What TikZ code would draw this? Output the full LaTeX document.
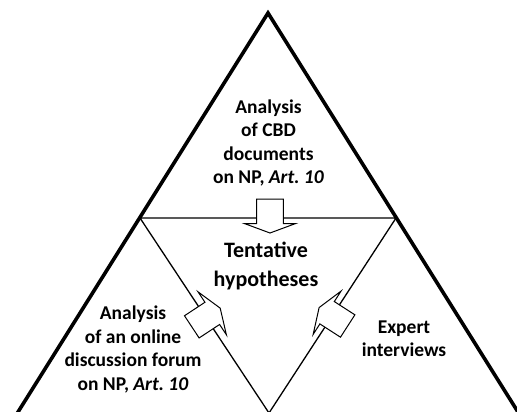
\documentclass[tikz,border=0pt]{standalone}
\usepackage{fontspec}
\setmainfont{Carlito}
\frenchspacing
\begin{document}
\begin{tikzpicture}[x=1pt,y=-1pt,
  outer/.style={line width=3.6pt, line join=miter},
  inner/.style={line width=1.3pt},
  blockarrow/.style={draw, fill=white, line width=1pt, line join=miter},
  lbl/.style={align=center, inner sep=0pt, anchor=base, font=\fontsize{19.5}{23.5}\selectfont\bfseries},
  big/.style={align=center, inner sep=0pt, anchor=base, font=\fontsize{22}{29}\selectfont\bfseries},
  barrow/.pic={\draw[blockarrow] (-17,-13.3) -- (7.5,-13.3) -- (7.5,-25.7) -- (17,0) -- (7.5,25.7) -- (7.5,13.3) -- (-17,13.3) -- cycle;}]
\clip (0,0) rectangle (517,412);
\draw[outer] (268,13) -- (13,420) -- (523,420) -- cycle;
\draw[inner] (140,218) -- (396,218) -- (269,413) -- cycle;
\pic[rotate=-90] at (270,216) {barrow};
\pic[rotate=33.4] at (206,317.5) {barrow};
\pic[rotate=147.2] at (333.4,316.8) {barrow};
\node[lbl] (top) at (268.5,183.5) {Analysis\\of CBD\\documents\\on NP, \textit{Art.\ 10}};
\node[big] (mid) at (266,286) {Tentative\\hypotheses};
\node[lbl] (left) at (133,390) {Analysis\\of an online\\discussion forum\\on NP, \textit{Art.\ 10}};
\node[lbl] (right) at (404,356.7) {Expert\\interviews};
\end{tikzpicture}
\end{document}
